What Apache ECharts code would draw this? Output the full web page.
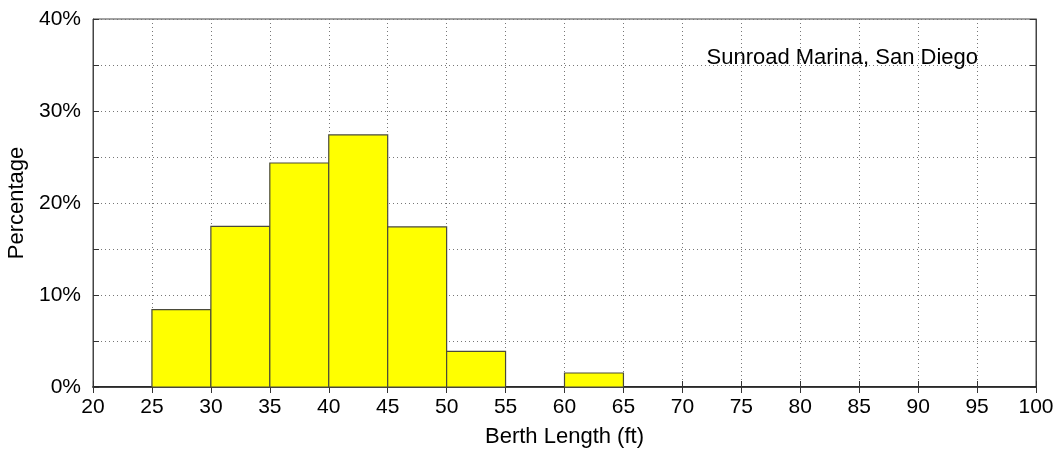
<!DOCTYPE html>
<html><head><meta charset="utf-8">
<script src="https://cdn.jsdelivr.net/npm/echarts@6/dist/echarts.min.js"></script>
<style>html,body{margin:0;padding:0;background:#fff;overflow:hidden}#c{width:1063px;height:449px}</style>
</head><body><div id="c"></div>
<script>
const binStarts = [25, 30, 35, 40, 45, 50, 55, 60];
const binEnds   = [30, 35, 40, 45, 50, 55, 60, 65];
const percentages = [8.4, 17.45, 24.35, 27.4, 17.4, 3.87, 0, 1.52];
const xTicks = [20,25,30,35,40,45,50,55,60,65,70,75,80,85,90,95,100];
const yTicks = [0,10,20,30,40];
const chartTitle = 'Sunroad Marina, San Diego';

const data = binStarts.map((s, i) => [s, binEnds[i], percentages[i]]);
const font = 'Liberation Sans, Arial, sans-serif';
const fs = 21;
const chart = echarts.init(document.getElementById('c'));
const tickStyle = {show: true, inside: true, length: 6, lineStyle: {color: '#333', width: 1}};
const split = {show: true, lineStyle: {color: '#777', type: [1, 3], width: 1}};
chart.setOption({
  animation: false,
  grid: {left: 93, right: 27, top: 19, bottom: 62, show: true, borderColor: '#444', borderWidth: 1,
         outerBoundsMode: 'none', containLabel: false},
  title: {text: chartTitle, right: 80, top: 42, textStyle: {fontFamily: font, fontSize: 22, fontWeight: 'normal', color: '#000'}},
  xAxis: [{
    type: 'value', min: xTicks[0], max: xTicks[xTicks.length-1], interval: 5,
    name: 'Berth Length (ft)', nameLocation: 'middle', nameGap: 39,
    nameTextStyle: {fontFamily: font, fontSize: 22, color: '#000'},
    axisLine: {show: true, lineStyle: {color: '#000', width: 1.5}},
    axisTick: tickStyle, splitLine: split,
    axisLabel: {fontFamily: font, fontSize: fs, color: '#000', margin: 10}
  }, {
    type: 'value', position: 'top', min: xTicks[0], max: xTicks[xTicks.length-1], interval: 5,
    axisLine: {show: true, lineStyle: {color: '#444'}}, axisTick: tickStyle,
    axisLabel: {show: false}, splitLine: {show: false}
  }],
  yAxis: [{
    type: 'value', min: yTicks[0], max: yTicks[yTicks.length-1], interval: 5,
    name: 'Percentage', nameLocation: 'middle', nameGap: 54, nameRotate: 90,
    nameTextStyle: {fontFamily: font, fontSize: 22, color: '#000'},
    axisLine: {show: true, lineStyle: {color: '#444', width: 1}},
    axisTick: tickStyle, splitLine: split,
    axisLabel: {fontFamily: font, fontSize: fs, color: '#000', margin: 12,
      formatter: v => yTicks.includes(v) ? v + '%' : ''}
  }, {
    type: 'value', position: 'right', min: 0, max: 40, interval: 5,
    axisLine: {show: true, lineStyle: {color: '#444'}}, axisTick: tickStyle,
    axisLabel: {show: false}, splitLine: {show: false}
  }],
  series: [{
    type: 'custom',
    xAxisIndex: 0, yAxisIndex: 0,
    data: data,
    encode: {x: [0, 1], y: 2},
    renderItem: function (params, api) {
      const v = api.value(2);
      if (!v) return null;
      const p0 = api.coord([api.value(0), 0]);
      const p1 = api.coord([api.value(1), v]);
      return {
        type: 'rect',
        shape: {x: p0[0], y: p1[1], width: p1[0] - p0[0], height: p0[1] - p1[1]},
        style: {fill: '#ffff00', stroke: '#4a4a3a', lineWidth: 1.2}
      };
    }
  }]
});
</script></body></html>
